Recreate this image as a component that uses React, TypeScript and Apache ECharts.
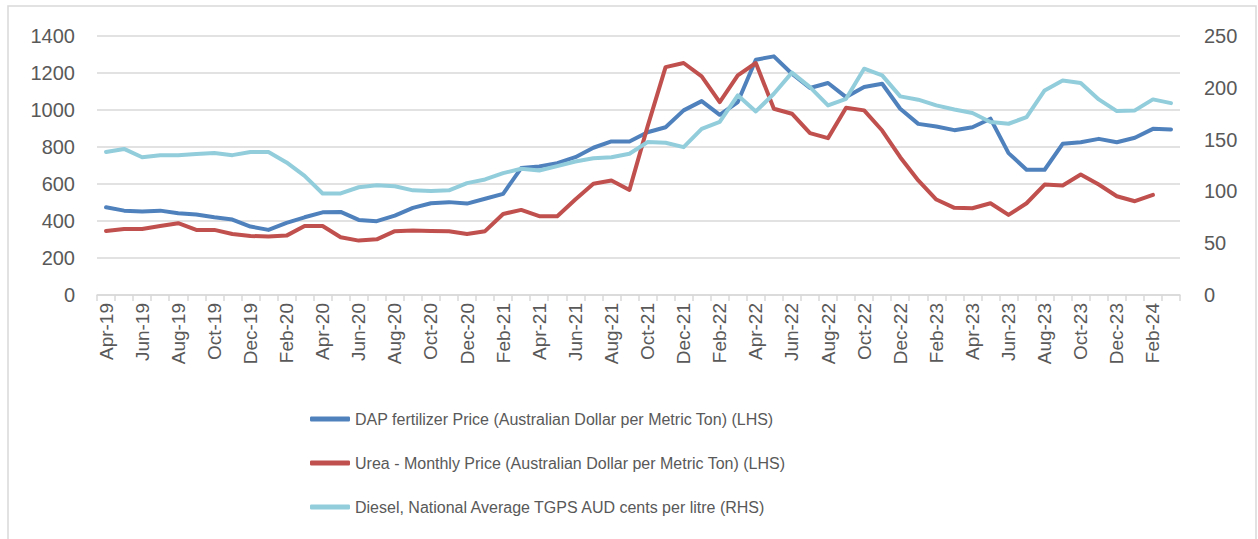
import React, { useEffect, useRef } from "react";
import * as echarts from "echarts";

const months: string[] = [
  "Apr-19", "May-19", "Jun-19", "Jul-19", "Aug-19", "Sep-19", "Oct-19", "Nov-19", "Dec-19",
  "Jan-20", "Feb-20", "Mar-20", "Apr-20", "May-20", "Jun-20", "Jul-20", "Aug-20", "Sep-20", "Oct-20", "Nov-20", "Dec-20",
  "Jan-21", "Feb-21", "Mar-21", "Apr-21", "May-21", "Jun-21", "Jul-21", "Aug-21", "Sep-21", "Oct-21", "Nov-21", "Dec-21",
  "Jan-22", "Feb-22", "Mar-22", "Apr-22", "May-22", "Jun-22", "Jul-22", "Aug-22", "Sep-22", "Oct-22", "Nov-22", "Dec-22",
  "Jan-23", "Feb-23", "Mar-23", "Apr-23", "May-23", "Jun-23", "Jul-23", "Aug-23", "Sep-23", "Oct-23", "Nov-23", "Dec-23",
  "Jan-24", "Feb-24", "Mar-24",
];

const dapPrice: (number | null)[] = [
  474, 456, 451, 456, 442, 435, 420, 408, 370, 352, 390, 420, 447, 449, 406, 399,
  429, 471, 496, 502, 494, 520, 547, 686, 695, 713, 745, 796, 830, 830, 880, 907,
  998, 1048, 974, 1043, 1272, 1290, 1196, 1119, 1146, 1070, 1124, 1142, 1007, 925,
  911, 891, 907, 953, 767, 677, 677, 817, 826, 844, 826, 850, 898, 895,
];

const ureaPrice: (number | null)[] = [
  346, 357, 357, 373, 388, 352, 352, 330, 319, 316, 321, 373, 373, 312, 294, 301,
  345, 348, 346, 345, 330, 345, 438, 460, 426, 426, 516, 601, 619, 568, 910, 1232,
  1254, 1182, 1043, 1187, 1254, 1007, 980, 875, 848, 1012, 998, 889, 745, 619,
  516, 471, 469, 496, 433, 496, 597, 592, 651, 597, 534, 507, 541, null,
];

const dieselPrice: (number | null)[] = [
  138, 141, 133, 135, 135, 136, 137, 135, 138, 138, 128, 115, 98, 98, 104, 106,
  105, 101, 100.5, 101, 108, 111.5, 117.6, 121.8, 120.2, 124.4, 128.9, 132, 133, 136.3, 147.6, 147,
  142.7, 160.4, 167, 192.7, 177.2, 194.3, 214.6, 200.7, 183, 189.4, 218.4, 212, 191.7, 188.5,
  183, 179, 175.6, 167, 165.3, 171.7, 197.5, 207, 204.6, 188.8, 177.5, 178.2, 188.8, 185.2,
];

const seriesNames = [
  "DAP fertilizer Price (Australian Dollar per Metric Ton) (LHS)",
  "Urea - Monthly Price (Australian Dollar per Metric Ton) (LHS)",
  "Diesel, National Average TGPS AUD cents per litre (RHS)",
];

const FONT = "'Liberation Sans', Arial, sans-serif";
const TEXT = "#595959";
const GRID = "#d9d9d9";

export default function App() {
  const ref = useRef<HTMLDivElement>(null);
  useEffect(() => {
    if (!ref.current) return;
    const chart = echarts.init(ref.current, undefined, { renderer: "svg" });
    const lineSeries = (name: string, data: (number | null)[], color: string, yAxisIndex: number) => ({
      name,
      type: "line",
      data,
      yAxisIndex,
      symbol: "none",
      smooth: false,
      connectNulls: false,
      lineStyle: { color, width: 4, cap: "round", join: "round" },
      itemStyle: { color },
    });
    chart.setOption({
      animation: false,
      textStyle: { fontFamily: FONT },
      graphic: [
        {
          type: "rect",
          shape: { x: 8, y: 6, width: 1248, height: 560 },
          style: { fill: "none", stroke: GRID, lineWidth: 1.5 },
          silent: true,
        },
      ],
      grid: { left: 97, right: 78, top: 36, bottom: 244, containLabel: false },
      legend: {
        orient: "vertical",
        left: 305,
        top: 404,
        itemWidth: 40,
        itemHeight: 5,
        itemGap: 24,
        icon: "roundRect",
        textStyle: { fontFamily: FONT, fontSize: 16, color: TEXT, lineHeight: 20 },
        data: seriesNames,
      },
      xAxis: {
        type: "category",
        data: months,
        boundaryGap: true,
        axisLine: { lineStyle: { color: GRID, width: 1.5 } },
        axisTick: { show: true, interval: 0, length: 6, lineStyle: { color: GRID, width: 1.5 } },
        axisLabel: {
          interval: 1,
          rotate: 90,
          margin: 8,
          fontFamily: FONT,
          fontSize: 19,
          color: TEXT,
        },
        splitLine: { show: false },
      },
      yAxis: [
        {
          type: "value",
          min: 0,
          max: 1400,
          interval: 200,
          axisLine: { show: false },
          axisTick: { show: false },
          axisLabel: {
            margin: 22,
            fontFamily: FONT,
            fontSize: 20,
            color: TEXT,
            formatter: (v: number) => String(v),
          },
          splitLine: { show: true, lineStyle: { color: GRID, width: 1.5 } },
        },
        {
          type: "value",
          min: 0,
          max: 250,
          interval: 50,
          axisLine: { show: false },
          axisTick: { show: false },
          axisLabel: {
            margin: 24,
            fontFamily: FONT,
            fontSize: 20,
            color: TEXT,
            formatter: (v: number) => String(v),
          },
          splitLine: { show: false },
        },
      ],
      series: [
        lineSeries(seriesNames[0], dapPrice, "#4F81BD", 0),
        lineSeries(seriesNames[1], ureaPrice, "#C0504D", 0),
        lineSeries(seriesNames[2], dieselPrice, "#92CDDC", 1),
      ],
    });
    return () => chart.dispose();
  }, []);
  return (
    <div
      ref={ref}
      style={{ position: "absolute", left: 0, top: 0, width: 1258, height: 539, background: "#fff" }}
    />
  );
}
